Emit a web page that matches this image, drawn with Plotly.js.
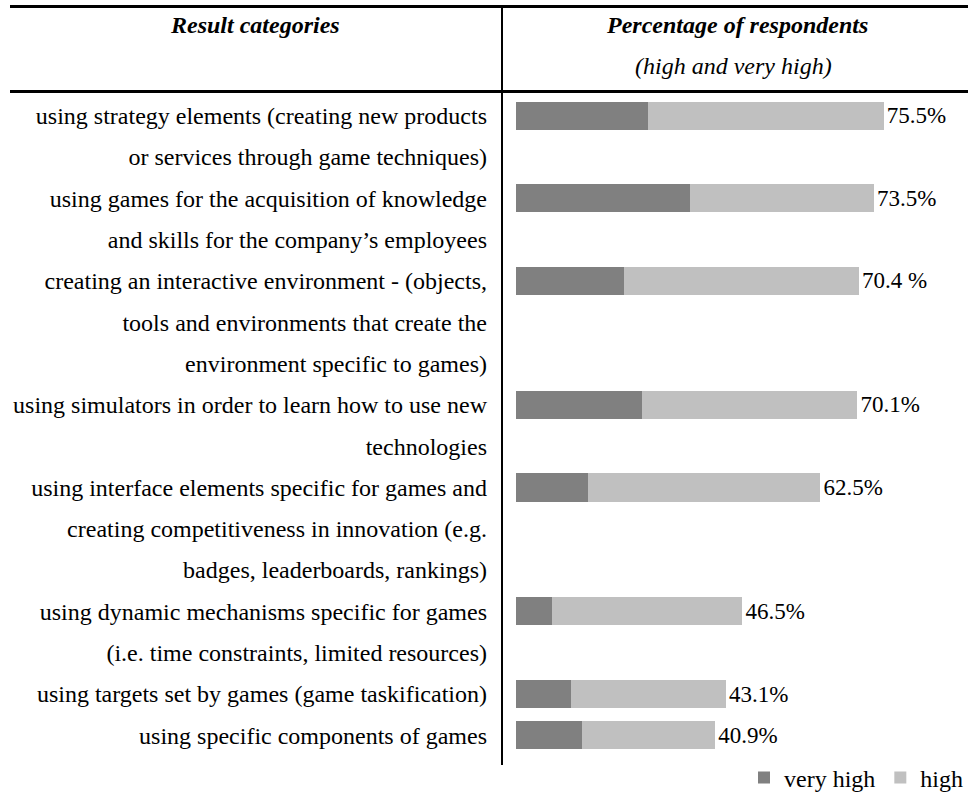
<!DOCTYPE html>
<html>
<head>
<meta charset="utf-8">
<script src="https://cdn.plot.ly/plotly-3.0.1.min.js"></script>
<style>
  html, body { margin: 0; padding: 0; background: #ffffff; }
  #chart { width: 968px; height: 804px; }
</style>
</head>
<body>
<div id="chart"></div>
<script>
// ---- data ----
var categories = [
  "using strategy elements (creating new products or services through game techniques)",
  "using games for the acquisition of knowledge and skills for the company\u2019s employees",
  "creating an interactive environment - (objects, tools and environments that create the environment specific to games)",
  "using simulators in order to learn how to use new technologies",
  "using interface elements specific for games and creating competitiveness in innovation (e.g. badges, leaderboards, rankings)",
  "using dynamic mechanisms specific for games (i.e. time constraints, limited resources)",
  "using targets set by games (game taskification)",
  "using specific components of games"
];
var labelLines = [
  ["using strategy elements (creating new products", "or services through game techniques)"],
  ["using games for the acquisition of knowledge", "and skills for the company\u2019s employees"],
  ["creating an interactive environment - (objects,", "tools and environments that create the", "environment specific to games)"],
  ["using simulators in order to learn how to use new", "technologies"],
  ["using interface elements specific for games and", "creating competitiveness in innovation (e.g.", "badges, leaderboards, rankings)"],
  ["using dynamic mechanisms specific for games", "(i.e. time constraints, limited resources)"],
  ["using targets set by games (game taskification)"],
  ["using specific components of games"]
];
var veryHigh = [27.1, 35.7, 22.2, 25.9, 14.8, 7.4, 11.3, 13.6];
var high     = [48.4, 37.8, 48.2, 44.2, 47.7, 39.1, 31.8, 27.3];
var valueLabels = ["75.5%", "73.5%", "70.4 %", "70.1%", "62.5%", "46.5%", "43.1%", "40.9%"];
var seriesNames = ["very high", "high"];
var headerLeft = "Result categories";
var headerRight = "Percentage of respondents";
var headerRightSub = "(high and very high)";

// ---- build line categories ----
var lineIds = [], lineText = [], barY = [];
labelLines.forEach(function (lines, i) {
  lines.forEach(function (t, j) {
    var id = "r" + i + "l" + j;
    lineIds.push(id);
    lineText.push(t);
    if (j === 0) barY.push(id);
  });
});

var W = 968, H = 804;
var M = { l: 502, r: 0, t: 95, b: 48 };
var pw = W - M.l - M.r, ph = H - M.t - M.b;
function px(x) { return (x - M.l) / pw; }
function py(y) { return (H - M.b - y) / ph; }

var FONT = "Liberation Serif, Times New Roman, serif";

var traces = [
  {
    type: "bar", orientation: "h", name: seriesNames[0],
    y: barY, x: veryHigh,
    marker: { color: "#808080", line: { width: 0 } },
    hoverinfo: "skip"
  },
  {
    type: "bar", orientation: "h", name: seriesNames[1],
    y: barY, x: high,
    text: valueLabels, textposition: "outside", cliponaxis: false,
    constraintext: "none",
    textfont: { family: FONT, size: 23, color: "#000000" },
    marker: { color: "#c0c0c0", line: { width: 0 } },
    hoverinfo: "skip"
  }
];

var lineCol = "#000000";
var layout = {
  width: W, height: H,
  margin: M,
  paper_bgcolor: "#ffffff", plot_bgcolor: "#ffffff",
  font: { family: FONT, size: 24, color: "#000000" },
  barmode: "stack",
  bargap: 0.32,
  hovermode: false,
  showlegend: true,
  legend: {
    orientation: "h", x: 1, xanchor: "right", y: py(778), yanchor: "middle",
    traceorder: "normal", itemwidth: 30,
    font: { family: FONT, size: 24, color: "#000000" },
    bgcolor: "rgba(0,0,0,0)"
  },
  xaxis: {
    range: [-2.875, 92.8], showgrid: false, zeroline: false, showline: false,
    showticklabels: false, ticks: "", fixedrange: true
  },
  yaxis: {
    type: "category", categoryarray: lineIds, categoryorder: "array",
    range: [lineIds.length - 0.5, -0.5],
    tickvals: lineIds, ticktext: lineText,
    showgrid: false, zeroline: false, showline: false, ticks: "",
    ticklabelstandoff: 14,
    tickfont: { family: FONT, size: 24, color: "#000000" },
    fixedrange: true
  },
  shapes: [
    { type: "line", xref: "paper", yref: "paper", x0: px(10), x1: px(968), y0: py(6.5), y1: py(6.5), line: { color: lineCol, width: 3 } },
    { type: "line", xref: "paper", yref: "paper", x0: px(10), x1: px(968), y0: py(91.5), y1: py(91.5), line: { color: lineCol, width: 3 } },
    { type: "line", xref: "paper", yref: "paper", x0: px(502), x1: px(502), y0: py(6), y1: py(765), line: { color: lineCol, width: 2 } }
  ],
  annotations: [
    { xref: "paper", yref: "paper", x: px(255), y: py(25), text: "<b><i>" + headerLeft + "</i></b>", showarrow: false, xanchor: "center", yanchor: "middle", font: { family: FONT, size: 24, color: "#000000" } },
    { xref: "paper", yref: "paper", x: px(737), y: py(25), text: "<b><i>" + headerRight + "</i></b>", showarrow: false, xanchor: "center", yanchor: "middle", font: { family: FONT, size: 24, color: "#000000" } },
    { xref: "paper", yref: "paper", x: px(733), y: py(66), text: "<i>" + headerRightSub + "</i>", showarrow: false, xanchor: "center", yanchor: "middle", font: { family: FONT, size: 24, color: "#000000" } }
  ]
};

Plotly.newPlot("chart", traces, layout, { displayModeBar: false, staticPlot: true });
</script>
</body>
</html>
